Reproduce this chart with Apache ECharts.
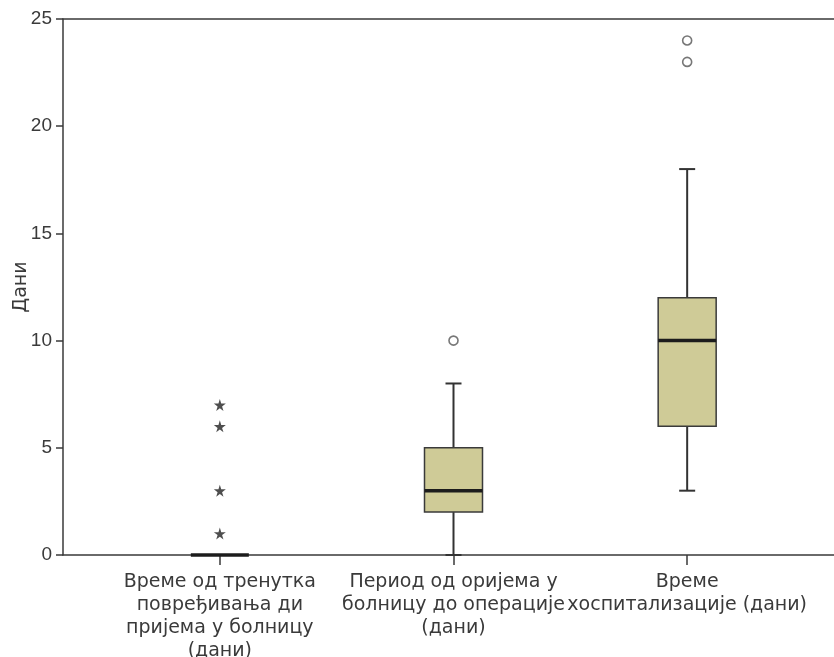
<!DOCTYPE html>
<html>
<head>
<meta charset="utf-8">
<script src="https://cdn.jsdelivr.net/npm/echarts@6/dist/echarts.min.js"></script>
<style>
html,body{margin:0;padding:0;background:#fff;}
#chart{width:834px;height:657px;}
</style>
</head>
<body>
<div id="chart"></div>
<script>
// ---- data ----
const categories = [
  'Време од тренутка\nповређивања ди\nпријема у болницу\n(дани)',
  'Период од оријема у\nболницу до операције\n(дани)',
  'Време\nхоспитализације (дани)'
];
const boxMin    = [0, 0, 3];
const boxQ1     = [0, 2, 6];
const boxMedian = [0, 3, 10];
const boxQ3     = [0, 5, 12];
const boxMax    = [0, 8, 18];
const outlierCat = [1, 2, 2];
const outlierVal = [10, 23, 24];
const extremeCat = [0, 0, 0, 0];
const extremeVal = [1, 3, 6, 7];
const yMin = 0, yMax = 25, yInterval = 5;
const yName = 'Дани';

// ---- build ----
const FONT = '"Liberation Sans", Arial, sans-serif';
const WIDE_FONT = '"DejaVu Sans", "Liberation Sans", sans-serif';
const boxData = categories.map((c, i) => [i, boxMin[i], boxQ1[i], boxMedian[i], boxQ3[i], boxMax[i]]);
const outlierData = outlierCat.map((c, i) => [c, outlierVal[i]]);
const extremeData = extremeCat.map((c, i) => [c, extremeVal[i]]);
const starPath = 'path://M50,0 L61,35 L98,35 L68,57 L79,91 L50,70 L21,91 L32,57 L2,35 L39,35 Z';

const BOX_W = 58, CAP_W = 16;
function renderBox(params, api) {
  const cat = api.value(0);
  const vMin = api.value(1), q1 = api.value(2), med = api.value(3), q3 = api.value(4), vMax = api.value(5);
  const x = api.coord([cat, med])[0];
  const yMinP = api.coord([cat, vMin])[1];
  const yQ1 = api.coord([cat, q1])[1];
  const yMed = api.coord([cat, med])[1];
  const yQ3 = api.coord([cat, q3])[1];
  const yMaxP = api.coord([cat, vMax])[1];
  const lineStyle = {stroke: '#333', lineWidth: 2};
  const children = [];
  if (yMinP > yQ1) {
    children.push({type: 'line', shape: {x1: x, y1: yMinP, x2: x, y2: yQ1}, style: lineStyle});
    children.push({type: 'line', shape: {x1: x - CAP_W / 2, y1: yMinP, x2: x + CAP_W / 2, y2: yMinP}, style: lineStyle});
  }
  if (yMaxP < yQ3) {
    children.push({type: 'line', shape: {x1: x, y1: yQ3, x2: x, y2: yMaxP}, style: lineStyle});
    children.push({type: 'line', shape: {x1: x - CAP_W / 2, y1: yMaxP, x2: x + CAP_W / 2, y2: yMaxP}, style: lineStyle});
  }
  if (yQ1 > yQ3) {
    children.push({type: 'rect', shape: {x: x - BOX_W / 2, y: yQ3, width: BOX_W, height: yQ1 - yQ3},
      style: {fill: '#cfcb97', stroke: '#3a3a3a', lineWidth: 1.5}});
  }
  children.push({type: 'line', shape: {x1: x - BOX_W / 2, y1: yMed, x2: x + BOX_W / 2, y2: yMed},
    style: {stroke: '#1c1c1c', lineWidth: 3.5}});
  return {type: 'group', children: children};
}

const chart = echarts.init(document.getElementById('chart'), null, {renderer: 'canvas'});
const axisColor = '#3a3a3a';
const labelColor = '#3a3a3a';
chart.setOption({
  animation: false,
  backgroundColor: '#fff',
  grid: [
    {left: 63, right: 0, top: 19, bottom: 102, containLabel: false, outerBoundsMode: 'none'},
    {left: 103, right: 30, top: 19, bottom: 102, containLabel: false, outerBoundsMode: 'none'}
  ],
  xAxis: [
    {gridIndex: 0, type: 'value', min: 0, max: 1, position: 'bottom',
      axisLine: {show: true, lineStyle: {color: axisColor, width: 1.5}},
      axisTick: {show: false}, axisLabel: {show: false}, splitLine: {show: false}},
    {gridIndex: 0, type: 'value', min: 0, max: 1, position: 'top',
      axisLine: {show: true, onZero: false, lineStyle: {color: axisColor, width: 1.5}},
      axisTick: {show: false}, axisLabel: {show: false}, splitLine: {show: false}},
    {gridIndex: 1, type: 'category', data: categories, boundaryGap: true,
      axisLine: {show: false},
      axisTick: {show: true, alignWithLabel: true, length: 10, lineStyle: {color: axisColor, width: 1.5}},
      axisLabel: {show: true, interval: 0, margin: 16, color: labelColor, fontFamily: WIDE_FONT, fontSize: 19,
        lineHeight: 23, align: 'center'},
      splitLine: {show: false}}
  ],
  yAxis: [
    {gridIndex: 0, type: 'value', min: yMin, max: yMax, interval: yInterval,
      name: yName, nameLocation: 'middle', nameGap: 32, nameRotate: 90, nameMoveOverlap: false,
      nameTextStyle: {color: labelColor, fontFamily: WIDE_FONT, fontSize: 19},
      axisLine: {show: true, lineStyle: {color: axisColor, width: 1.5}},
      axisTick: {show: true, length: 7, lineStyle: {color: axisColor, width: 1.5}},
      axisLabel: {color: labelColor, fontFamily: FONT, fontSize: 19, margin: 11},
      splitLine: {show: false}},
    {gridIndex: 1, type: 'value', min: yMin, max: yMax, interval: yInterval, show: false}
  ],
  series: [
    {type: 'custom', xAxisIndex: 2, yAxisIndex: 1, renderItem: renderBox, data: boxData,
      encode: {x: 0, y: [1, 2, 3, 4, 5]}, z: 3, clip: false},
    {type: 'scatter', xAxisIndex: 2, yAxisIndex: 1, data: outlierData, symbol: 'circle', symbolSize: 9,
      itemStyle: {color: '#fff', borderColor: '#555', borderWidth: 1.6}, z: 4},
    {type: 'scatter', xAxisIndex: 2, yAxisIndex: 1, data: extremeData, symbol: starPath, symbolSize: 12,
      itemStyle: {color: '#222'}, z: 4}
  ]
});
</script>
</body>
</html>
